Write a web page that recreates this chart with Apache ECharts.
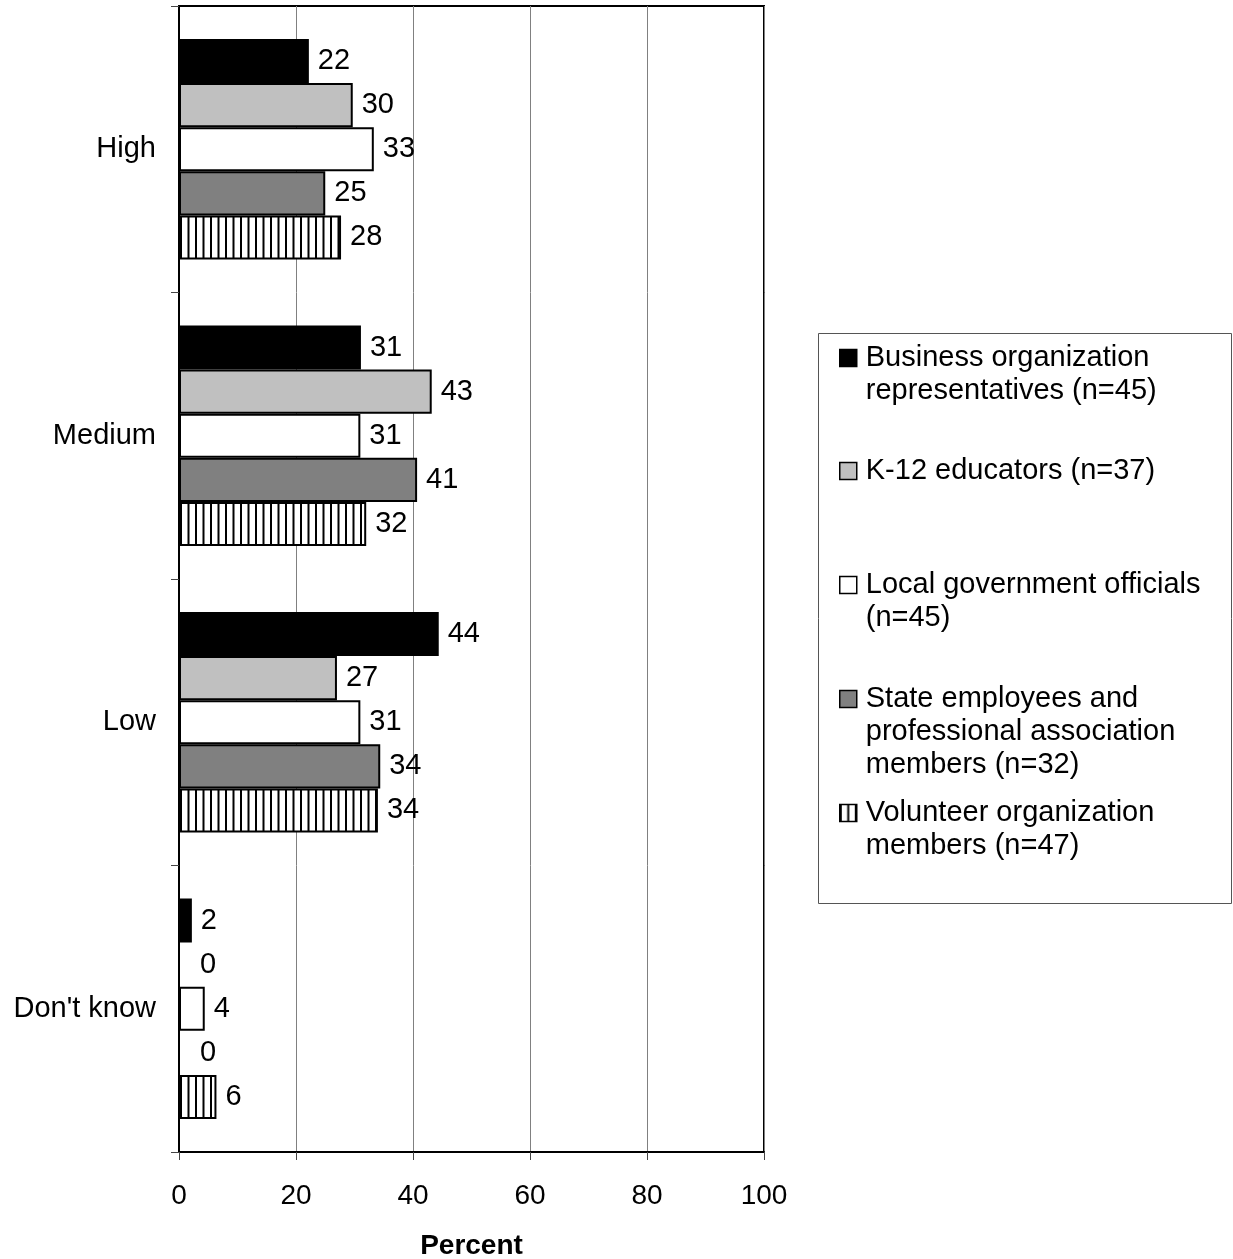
<!DOCTYPE html>
<html><head><meta charset="utf-8">
<script src="https://cdn.jsdelivr.net/npm/echarts@6/dist/echarts.min.js"></script>
<style>html,body{margin:0;padding:0;background:#fff}#c{width:1233px;height:1259px}</style>
</head><body><div id="c"></div>
<script>
const categories = ["High", "Medium", "Low", "Don't know"];
const seriesNames = [
  "Business organization representatives (n=45)",
  "K-12 educators (n=37)",
  "Local government officials (n=45)",
  "State employees and professional association members (n=32)",
  "Volunteer organization members (n=47)"
];
const legendLines = [
  ["Business organization", "representatives (n=45)"],
  ["K-12 educators (n=37)"],
  ["Local government officials", "(n=45)"],
  ["State employees and", "professional association", "members (n=32)"],
  ["Volunteer organization", "members (n=47)"]
];
const business = [22.2, 31.1, 44.4, 2.2];
const k12 = [29.7, 43.2, 27.0, 0];
const localGov = [33.3, 31.0, 31.0, 4.4];
const stateEmp = [25.0, 40.7, 34.4, 0];
const volunteer = [27.7, 32.0, 34.0, 6.4];
const xTicks = [0, 20, 40, 60, 80, 100];

const FONT = 'Liberation Sans, Arial, sans-serif';
const FS = 29;

// vertical stripe pattern
const pc = document.createElement('canvas');
pc.width = 15; pc.height = 10;
const pctx = pc.getContext('2d');
pctx.fillStyle = '#fff'; pctx.fillRect(0, 0, 15, 10);
pctx.fillStyle = '#000'; pctx.fillRect(0, 0, 2, 10); pctx.fillRect(7.5, 0, 2, 10);
const stripe = { image: pc, repeat: 'repeat' };

const fills = ['#000000', '#c0c0c0', '#ffffff', '#808080', stripe];
const allData = [business, k12, localGov, stateEmp, volunteer];

const series = allData.map((arr, i) => ({
  name: seriesNames[i],
  type: 'bar',
  barGap: '0%',
  barCategoryGap: '23%',
  itemStyle: { color: fills[i], borderColor: '#000', borderWidth: 2 },
  label: {
    show: true, position: 'right', distance: 9,
    fontFamily: FONT, fontSize: FS, color: '#000',
    formatter: p => Math.round(p.value)
  },
  data: arr.map(v => v === 0 ? { value: v, label: { distance: 20 } } : v)
}));

const firstLineY = [358, 471, 585, 699, 813];
const LH = 33;
const legends = legendLines.map((lines, i) => {
  const pad = lines.length - 1;
  const nLines = lines.length + pad;
  const H = nLines * LH;
  return {
    orient: 'vertical',
    left: 839,
    top: firstLineY[i] - H / 2,
    padding: 0,
    itemWidth: 17, itemHeight: 17,
    icon: 'rect',
    data: [seriesNames[i]],
    itemStyle: { borderColor: '#000', borderWidth: 1.5 },
    formatter: () => '\n'.repeat(pad) + lines.join('\n'),
    textStyle: { fontFamily: FONT, fontSize: FS, lineHeight: LH, color: '#000', padding: [0, 0, 0, 4] },
    selectedMode: false
  };
});

const chart = echarts.init(document.getElementById('c'), null, { renderer: 'canvas' });
chart.setOption({
  backgroundColor: '#fff',
  animation: false,
  grid: { left: 179, right: 469, top: 6, bottom: 107, containLabel: false, outerBoundsMode: 'none',
          show: true, borderColor: '#000', borderWidth: 2, backgroundColor: 'transparent' },
  legend: legends,
  graphic: [{
    type: 'rect', left: 816, top: 331,
    shape: { width: 413, height: 570 },
    style: { fill: 'none', stroke: '#555', lineWidth: 1 }, z: -1
  }],
  xAxis: {
    type: 'value', min: xTicks[0], max: xTicks[xTicks.length - 1], interval: 20,
    name: 'Percent', nameLocation: 'middle', nameGap: 80,
    nameTextStyle: { fontFamily: FONT, fontSize: FS - 1, fontWeight: 'bold', color: '#000' },
    axisLine: { show: true, lineStyle: { color: '#000', width: 2 } },
    axisTick: { show: true, length: 8, lineStyle: { color: '#444', width: 1 } },
    axisLabel: { margin: 30, fontFamily: FONT, fontSize: FS - 1, color: '#000' },
    splitLine: { show: true, lineStyle: { color: '#808080', width: 1 } }
  },
  yAxis: {
    type: 'category', inverse: true, data: categories,
    axisLine: { show: true, lineStyle: { color: '#000', width: 2 } },
    axisTick: { show: true, length: 8, lineStyle: { color: '#444', width: 1 } },
    axisLabel: { margin: 23, fontFamily: FONT, fontSize: FS, color: '#000' },
    splitLine: { show: false }
  },
  series: series
});
</script></body></html>
